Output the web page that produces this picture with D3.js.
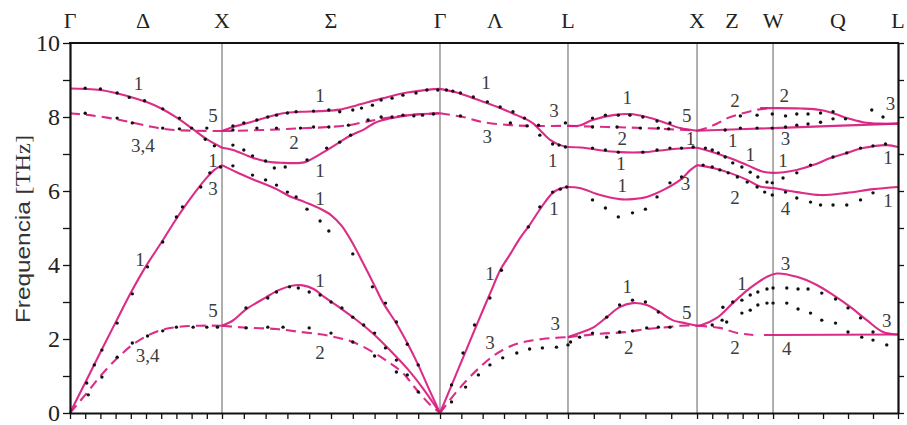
<!DOCTYPE html>
<html>
<head>
<meta charset="utf-8">
<script src="https://cdn.jsdelivr.net/npm/d3@7"></script>
<style>
  body { margin: 0; background: #fff; }
  svg { display: block; }
</style>
</head>
<body>
<svg id="chart" width="907" height="425"></svg>
<script>
// ---- Brillouin-zone path ------------------------------------------------
// k runs 0..6: one unit per path segment, Γ-X, X-Γ (Σ), Γ-L, L-X, X-W, W-L
const pointLabels = ["Γ", "X", "Γ", "L", "X", "W", "L"];
const lineLabels = [[0.48, "Δ"], [1.5, "Σ"], [2.43, "Λ"], [4.46, "Z"], [5.52, "Q"]];
const segLength = [1, 1.434, 0.842, 0.849, 0.5, 0.822];
const segTicks = [10, 10, 6, 5, 5, 5];
const yTicks = [0, 2, 4, 6, 8, 10];

// ---- calculated branches [k, THz] --------------------------------------
// Γ-X (Δ)
const gxLO = [[0,8.77],[0.1,8.76],[0.2,8.73],[0.3,8.65],[0.4,8.54],[0.5,8.41],[0.6,8.23],[0.7,7.99],[0.8,7.7],[0.9,7.4],[1,7.17]];
const gxTO = [[0,8.1],[0.13,8.05],[0.33,7.92],[0.53,7.74],[0.65,7.66],[0.8,7.63],[1,7.62]];
const gxLA = [[0,0],[0.1,0.82],[0.2,1.64],[0.3,2.45],[0.4,3.25],[0.5,3.97],[0.6,4.6],[0.7,5.25],[0.8,5.84],[0.9,6.36],[0.95,6.57],[1,6.7]];
const gxTA = [[0,0],[0.11,0.54],[0.2,1.0],[0.31,1.48],[0.41,1.84],[0.51,2.09],[0.6,2.24],[0.7,2.32],[0.85,2.36],[1,2.36]];
// X-Γ (Σ)
const sgTop = [[1,7.62],[1.05,7.73],[1.13,7.86],[1.21,8.0],[1.28,8.1],[1.36,8.14],[1.45,8.16],[1.54,8.2],[1.62,8.32],[1.74,8.51],[1.85,8.66],[1.95,8.74],[2,8.76]];
const sgMid = [[1,7.62],[1.2,7.65],[1.35,7.69],[1.46,7.72],[1.57,7.77],[1.65,7.86],[1.75,7.97],[1.85,8.05],[2,8.1]];
const sgLow = [[1,7.17],[1.05,7.11],[1.14,6.9],[1.21,6.79],[1.28,6.76],[1.36,6.76],[1.39,6.8],[1.48,7.1],[1.54,7.32],[1.59,7.5],[1.65,7.66],[1.7,7.84],[1.77,7.96],[1.86,8.05],[2,8.1]];
const sgLA = [[1,6.7],[1.07,6.5],[1.14,6.32],[1.25,6.05],[1.31,5.86],[1.38,5.7],[1.44,5.55],[1.5,5.35],[1.55,5.05],[1.6,4.58],[1.65,4.02],[1.7,3.44],[1.74,2.97],[1.8,2.42],[1.85,1.89],[1.9,1.3],[1.95,0.64],[2,0]];
const sgTA1 = [[1,2.36],[1.05,2.5],[1.11,2.8],[1.2,3.12],[1.26,3.32],[1.32,3.44],[1.37,3.45],[1.42,3.35],[1.47,3.13],[1.54,2.85],[1.62,2.5],[1.69,2.16],[1.77,1.7],[1.85,1.2],[1.92,0.68],[2,0]];
const sgTA2 = [[1,2.36],[1.1,2.31],[1.25,2.27],[1.36,2.19],[1.45,2.13],[1.52,2.05],[1.6,1.92],[1.7,1.62],[1.77,1.35],[1.83,1.08],[1.89,0.65],[1.95,0.25],[2,0]];
// Γ-L (Λ)
const lmLO = [[2,8.76],[2.13,8.66],[2.29,8.47],[2.45,8.27],[2.6,8.05],[2.68,7.93],[2.73,7.82],[2.78,7.65],[2.86,7.38],[2.94,7.24],[3,7.19]];
const lmTO = [[2,8.1],[2.18,8.0],[2.34,7.86],[2.55,7.78],[2.7,7.76],[3,7.76]];
const lmLA = [[2,0],[2.1,0.83],[2.2,1.66],[2.3,2.49],[2.4,3.3],[2.47,3.86],[2.55,4.3],[2.62,4.7],[2.7,5.08],[2.78,5.5],[2.88,5.95],[2.94,6.07],[3,6.11]];
const lmTA = [[2,0],[2.1,0.45],[2.2,0.85],[2.3,1.2],[2.4,1.5],[2.5,1.72],[2.6,1.87],[2.7,1.95],[2.8,2.0],[2.9,2.03],[3,2.05]];
// L-X
const lxTop = [[3,7.76],[3.09,7.77],[3.19,7.92],[3.35,8.05],[3.48,8.08],[3.61,8.0],[3.74,7.86],[3.87,7.7],[4,7.63]];
const lxMid = [[3,7.76],[3.3,7.73],[3.6,7.7],[4,7.63]];
const lxLO = [[3,7.19],[3.12,7.17],[3.25,7.1],[3.4,7.05],[3.6,7.05],[3.8,7.13],[4,7.17]];
const lxLA = [[3,6.11],[3.09,6.08],[3.25,5.89],[3.4,5.78],[3.5,5.78],[3.61,5.84],[3.74,6.03],[3.87,6.3],[3.95,6.57],[4,6.7]];
const lxTA1 = [[3,2.05],[3.09,2.16],[3.19,2.3],[3.3,2.59],[3.4,2.86],[3.5,2.97],[3.61,2.92],[3.71,2.73],[3.81,2.51],[3.92,2.42],[4,2.36]];
const lxTA2 = [[3,2.05],[3.25,2.14],[3.46,2.19],[3.61,2.27],[3.77,2.32],[3.87,2.36],[4,2.36]];
// X-W-L
const xlFlat = [[4,7.63],[5,7.7],[6,7.82]];
const xwUp = [[4,7.63],[4.15,7.72],[4.28,7.84],[4.4,7.97],[4.6,8.1],[4.8,8.2],[5,8.24]];
const wlTop = [[4.83,8.24],[5,8.24],[5.22,8.23],[5.38,8.19],[5.5,8.08],[5.59,7.97],[5.72,7.86],[5.85,7.82],[6,7.82]];
const xlOpt1 = [[4,7.17],[4.21,7.05],[4.43,6.89],[4.66,6.7],[4.87,6.52],[5,6.49],[5.19,6.57],[5.32,6.7],[5.46,6.89],[5.59,7.03],[5.72,7.16],[5.91,7.24],[6,7.19]];
const xlOpt2 = [[4,6.7],[4.21,6.62],[4.43,6.49],[4.66,6.3],[4.83,6.12],[5,6.08],[5.19,5.97],[5.38,5.89],[5.59,5.95],[5.8,6.05],[6,6.11]];
const xlAc1 = [[4,2.36],[4.06,2.38],[4.26,2.57],[4.47,2.97],[4.7,3.38],[4.92,3.68],[5.03,3.77],[5.19,3.68],[5.35,3.46],[5.48,3.19],[5.62,2.86],[5.75,2.51],[5.88,2.19],[6,2.12]];
const xwAc2 = [[4,2.36],[4.3,2.3],[4.53,2.16],[4.74,2.11]];
const wlAc4 = [[4.88,2.11],[5,2.11],[6,2.12]];

// ---- measured frequencies [k, THz] --------------------------------------
const dotsGX = [[0.1,8.78],[0.2,8.76],[0.31,8.65],[0.39,8.53],[0.49,8.44],[0.61,8.22],[0.72,7.97],[0.8,7.7],[0.89,7.4],[0.95,7.22],
  [0.1,8.1],[0.31,7.97],[0.41,7.84],[0.61,7.7],[0.72,7.68],[0.9,7.7],
  [0.11,0.81],[0.16,1.3],[0.21,1.7],[0.31,2.43],[0.41,3.22],[0.51,3.95],[0.61,4.62],[0.7,5.3],[0.74,5.57],[0.86,6.11],[0.92,6.49],[0.99,6.65],
  [0.12,0.49],[0.21,0.97],[0.31,1.51],[0.41,1.89],[0.51,2.08],[0.61,2.22],[0.7,2.32],[0.81,2.32],[0.9,2.32],[0.97,2.32]];
const dotsSigma = [[1.05,7.76],[1.1,7.84],[1.16,7.92],[1.21,8.0],[1.25,8.05],[1.3,8.11],[1.34,8.14],[1.42,8.16],[1.49,8.19],[1.54,8.14],[1.6,8.19],[1.64,8.24],[1.69,8.32],[1.73,8.46],[1.78,8.51],[1.83,8.59],[1.89,8.65],[1.94,8.73],[1.99,8.73],
  [1.05,7.65],[1.16,7.7],[1.25,7.7],[1.36,7.7],[1.42,7.73],[1.49,7.73],[1.58,7.78],[1.67,7.92],[1.73,8.0],[1.78,8.0],[1.83,8.05],[1.88,8.03],[1.92,8.05],[1.97,8.08],
  [1.05,7.24],[1.1,7.11],[1.14,6.95],[1.2,6.81],[1.24,6.62],[1.29,6.65],[1.39,6.84],[1.48,7.16],[1.54,7.32],[1.59,7.51],
  [1.05,6.68],[1.14,6.43],[1.2,6.3],[1.25,6.16],[1.3,5.97],[1.34,5.84],[1.39,5.51],[1.45,5.19],[1.49,4.92],[1.6,4.3],[1.69,3.41],[1.75,2.97],[1.8,2.46],[1.85,1.86],[1.9,1.3],
  [1.11,2.84],[1.21,3.11],[1.25,3.27],[1.31,3.41],[1.35,3.38],[1.4,3.27],[1.45,3.19],[1.5,3.0],[1.55,2.84],[1.6,2.59],[1.65,2.38],[1.7,2.16],[1.75,1.76],[1.8,1.43],[1.85,1.03],[1.9,0.57],
  [1.11,2.3],[1.21,2.32],[1.28,2.32],[1.4,2.3],[1.5,2.16],[1.6,1.92],[1.7,1.54],[1.8,1.11]];
const dotsLambda = [[2.05,8.73],[2.1,8.7],[2.16,8.65],[2.26,8.54],[2.37,8.41],[2.47,8.27],[2.57,8.14],[2.66,7.97],[2.77,7.78],[2.78,7.51],[2.88,7.27],[2.93,7.24],[2.98,7.19],
  [2.16,8.03],[2.55,7.84],[2.68,7.76],[2.98,7.84],
  [2.09,0.76],[2.18,1.62],[2.27,2.38],[2.39,3.11],[2.48,3.86],[2.69,5.03],[2.78,5.57],[2.88,5.97],[2.94,6.05],[2.99,6.11],
  [2.09,0.3],[2.2,0.7],[2.3,1.03],[2.39,1.3],[2.49,1.49],[2.6,1.62],[2.7,1.73],[2.8,1.76],[2.91,1.78],[3,1.84]];
const dotsLX = [[3.19,7.97],[3.29,8.05],[3.39,8.05],[3.48,8.05],[3.58,8.0],[3.69,7.89],[3.79,7.84],
  [3.19,7.73],[3.38,7.73],[3.56,7.7],[3.7,7.7],[3.78,7.68],
  [3.19,7.16],[3.29,7.11],[3.39,7.05],[3.58,7.05],[3.69,7.11],[3.79,7.16],[3.88,7.16],[3.97,7.19],
  [3.19,5.76],[3.29,5.54],[3.39,5.3],[3.5,5.41],[3.6,5.51],[3.69,5.84],[3.79,6.22],[3.88,6.38],
  [3.3,2.59],[3.4,2.92],[3.5,3.05],[3.6,3.0],[3.7,2.73],
  [3.02,1.92],[3.09,2.05],[3.19,2.16],[3.3,2.05],[3.4,2.19],[3.5,2.22],[3.61,2.3],[3.7,2.32],[3.79,2.32]];
const dotsXW = [[4.11,7.16],[4.2,7.11],[4.28,7.03],[4.37,6.92],[4.47,6.76],[4.59,6.65],[4.7,6.51],[4.8,6.38],[4.92,6.24],[4.99,6.22],
  [4.08,6.7],[4.2,6.65],[4.3,6.57],[4.41,6.49],[4.53,6.38],[4.66,6.24],[4.79,6.11],[4.89,5.97],[4.99,5.89],
  [4.37,7.65],[4.57,7.7],[4.79,7.7],[4.99,7.7],
  [4.57,8.03],[4.79,8.05],[4.99,8.08],
  [4.34,2.86],[4.47,3.0],[4.59,3.05],[4.7,3.19],[4.8,3.27],[4.92,3.35],[5.0,3.38],
  [4.2,2.38],[4.33,2.51],[4.39,2.46],[4.59,2.7],[4.7,2.78],[4.8,2.92],[4.92,2.97],[5.0,2.97]];
const dotsWL = [[5.1,8.03],[5.19,8.08],[5.28,8.08],[5.38,8.11],[5.48,8.14],[5.79,8.19],[5.88,8.0],
  [5.1,7.73],[5.19,7.78],[5.28,7.81],[5.38,7.86],[5.48,7.95],[5.58,7.95],
  [5.08,6.35],[5.19,6.49],[5.3,6.7],[5.48,6.92],[5.59,7.03],[5.7,7.16],[5.8,7.22],[5.9,7.27],
  [5.1,5.97],[5.19,5.81],[5.3,5.7],[5.38,5.62],[5.48,5.62],[5.59,5.62],[5.7,5.76],[5.8,5.95],
  [5.11,3.38],[5.2,3.35],[5.28,3.35],[5.39,3.24],[5.5,3.08],[5.6,2.84],[5.7,2.57],[5.8,2.19],
  [5.11,2.97],[5.2,2.81],[5.3,2.7],[5.39,2.51],[5.5,2.43],[5.6,2.19],[5.71,2.05],[5.8,1.97],[5.91,1.84]];

// ---- irreducible-representation labels [k, THz, text] -------------------
const branchLabels = [
  [0.45,8.92,"1"],[0.94,8.05,"5"],[0.48,7.24,"3,4"],[0.94,6.84,"1"],[0.94,6.08,"3"],[0.46,4.14,"1"],[0.94,2.78,"5"],[0.51,1.57,"3,4"],
  [1.45,8.59,"1"],[1.33,7.32,"2"],[1.45,6.57,"1"],[1.45,5.81,"1"],[1.45,3.59,"1"],[1.45,1.65,"2"],
  [2.36,8.95,"1"],[2.37,7.49,"3"],[2.89,8.19,"3"],[2.88,6.84,"1"],[2.89,5.54,"1"],[2.39,3.78,"1"],[2.39,1.92,"3"],[2.9,2.43,"3"],
  [3.46,8.54,"1"],[3.42,7.43,"2"],[3.41,6.76,"1"],[3.42,6.16,"1"],[3.92,8.05,"5"],[3.95,7.41,"1"],[3.91,6.22,"3"],[3.46,3.41,"1"],[3.47,1.78,"2"],[3.92,2.73,"5"],
  [4.5,8.46,"2"],[4.47,7.38,"1"],[4.7,7.0,"1"],[4.5,5.84,"2"],[4.59,3.51,"1"],[4.5,1.78,"2"],
  [5.09,8.59,"2"],[5.1,7.43,"3"],[5.08,6.84,"1"],[5.1,5.54,"4"],[5.1,4.05,"3"],[5.11,1.76,"4"],
  [5.94,8.38,"3"],[5.92,6.92,"1"],[5.92,5.76,"1"],[5.91,2.51,"3"]
];

// ---- drawing ------------------------------------------------------------
(function draw() {
  const svg = d3.select("#chart");
  const plotLeft = 70, plotRight = 898, plotTop = 43, plotBottom = 413;
  const serif = "'Liberation Serif', 'Times New Roman', serif";
  const magenta = "#d81a7d";

  const totalLen = d3.sum(segLength);
  const cum = [0];
  segLength.forEach(l => cum.push(cum[cum.length - 1] + l));
  const x = d3.scaleLinear()
    .domain(d3.range(7))
    .range(cum.map(c => plotLeft + c / totalLen * (plotRight - plotLeft)));
  const y = d3.scaleLinear().domain([0, 10]).range([plotBottom, plotTop]);

  // separators at the inner symmetry points
  svg.append("g").selectAll("line").data([1, 2, 3, 4, 5]).join("line")
    .attr("x1", d => x(d)).attr("x2", d => x(d))
    .attr("y1", y(0)).attr("y2", y(10))
    .attr("stroke", "#6e6e6e").attr("stroke-width", 1.1);

  // branches: [points, dashed]
  const branches = [
    [gxLO, false], [gxTO, true], [gxLA, false], [gxTA, true],
    [sgTop, false], [sgMid, true], [sgLow, false], [sgLA, false], [sgTA1, false], [sgTA2, true],
    [lmLO, false], [lmTO, true], [lmLA, false], [lmTA, true],
    [lxTop, false], [lxMid, true], [lxLO, false], [lxLA, false], [lxTA1, false], [lxTA2, true],
    [xlFlat, false], [xwUp, true], [wlTop, false], [xlOpt1, false], [xlOpt2, false],
    [xlAc1, false], [xwAc2, true], [wlAc4, false]
  ];
  const line = d3.line()
    .x(d => x(d[0])).y(d => y(d[1]))
    .curve(d3.curveCatmullRom.alpha(0.5));

  svg.append("g").selectAll("path").data(branches).join("path")
    .attr("d", d => line(d[0]))
    .attr("fill", "none")
    .attr("stroke", magenta)
    .attr("stroke-width", 2.1)
    .attr("stroke-opacity", 0.92)
    .attr("stroke-dasharray", d => d[1] ? "10,6" : null);

  // measured points
  const allDots = [].concat(dotsGX, dotsSigma, dotsLambda, dotsLX, dotsXW, dotsWL);
  svg.append("g").selectAll("circle").data(allDots).join("circle")
    .attr("cx", d => x(d[0])).attr("cy", d => y(d[1]))
    .attr("r", 1.7).attr("fill", "#111");

  // representation labels
  svg.append("g").selectAll("text").data(branchLabels).join("text")
    .attr("x", d => x(d[0])).attr("y", d => y(d[1]))
    .attr("dy", "0.35em")
    .attr("text-anchor", "middle")
    .attr("font-family", serif).attr("font-size", 19)
    .attr("fill", "#3c3c3c")
    .text(d => d[2]);

  // axes
  const leftAxis = d3.axisLeft(y).tickValues(d3.range(0, 11)).tickSize(7).tickSizeOuter(0)
    .tickPadding(3).tickFormat(d => yTicks.includes(d) ? d : "");
  const gl = svg.append("g").attr("transform", `translate(${plotLeft},0)`).call(leftAxis);
  gl.selectAll("text").attr("font-family", serif).attr("font-size", 24).attr("fill", "#222");

  const rightAxis = d3.axisRight(y).tickValues(d3.range(0, 11)).tickSize(6).tickSizeOuter(0).tickFormat("");
  svg.append("g").attr("transform", `translate(${plotRight},0)`).call(rightAxis);

  const kTicks = [];
  segTicks.forEach((n, i) => { for (let j = 0; j < n; j++) kTicks.push(i + j / n); });
  kTicks.push(6);
  const bottomAxis = d3.axisBottom(x).tickValues(kTicks).tickSize(6).tickSizeOuter(0).tickFormat("");
  svg.append("g").attr("transform", `translate(0,${plotBottom})`).call(bottomAxis);

  svg.selectAll(".domain").attr("stroke", "#111").attr("stroke-width", 2.2);
  svg.selectAll(".tick line").attr("stroke", "#111").attr("stroke-width", 1.3);

  // top frame
  svg.append("line")
    .attr("x1", plotLeft - 1).attr("x2", plotRight + 1).attr("y1", plotTop).attr("y2", plotTop)
    .attr("stroke", "#111").attr("stroke-width", 2.2);

  // symmetry point names
  svg.append("g").selectAll("text").data(pointLabels).join("text")
    .attr("x", (d, i) => x(i)).attr("y", 28)
    .attr("text-anchor", "middle")
    .attr("font-family", serif).attr("font-size", 22).attr("fill", "#222")
    .text(d => d);
  svg.append("g").selectAll("text").data(lineLabels).join("text")
    .attr("x", d => x(d[0])).attr("y", 28)
    .attr("text-anchor", "middle")
    .attr("font-family", serif).attr("font-size", 22).attr("fill", "#222")
    .text(d => d[1]);

  // vertical axis title (slightly elongated lettering)
  const title = svg.append("text")
    .attr("transform", `translate(30,229) scale(1,1.16) rotate(-90)`)
    .attr("text-anchor", "middle")
    .attr("fill", "#333").attr("font-size", 21);
  title.append("tspan").attr("font-family", "'Liberation Sans', Arial, sans-serif").text("Frequencia ");
  title.append("tspan").attr("font-family", serif).text("[THz]");
})();
</script>
</body>
</html>
